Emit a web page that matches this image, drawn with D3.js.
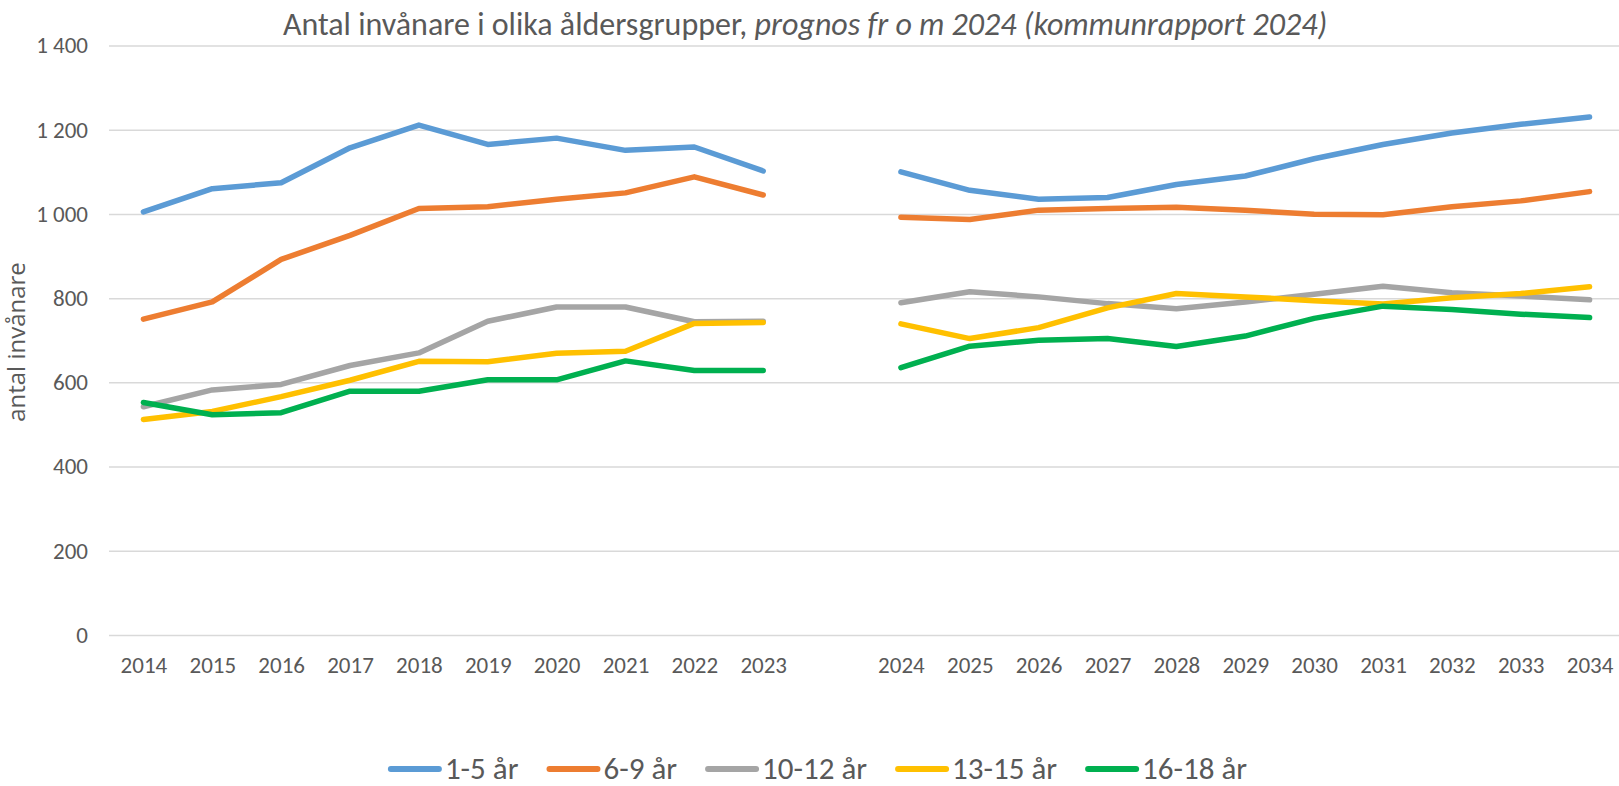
<!DOCTYPE html>
<html>
<head>
<meta charset="utf-8">
<script src="https://cdn.jsdelivr.net/npm/d3@7"></script>
<style>
  html, body { margin: 0; padding: 0; background: #fff; }
  svg text { fill: #595959; }
</style>
</head>
<body>
<script>
// categories: history, an empty slot, then the forecast
const categories = ["2014", "2015", "2016", "2017", "2018", "2019", "2020", "2021", "2022", "2023", "",
  "2024", "2025", "2026", "2027", "2028", "2029", "2030", "2031", "2032", "2033", "2034"];

const age1to5 = [1005, 1060, 1074, 1157, 1211, 1165, 1180, 1151, 1159, 1102, null,
  1100, 1056, 1035, 1039, 1070, 1090, 1131, 1165, 1192, 1213, 1230];
const age6to9 = [750, 791, 892, 949, 1013, 1017, 1035, 1050, 1088, 1045, null,
  992, 987, 1009, 1013, 1016, 1009, 999, 998, 1017, 1031, 1053];
const age10to12 = [542, 582, 595, 640, 670, 745, 779, 779, 744, 745, null,
  789, 815, 803, 787, 775, 791, 809, 828, 813, 805, 796];
const age13to15 = [512, 531, 566, 605, 650, 649, 669, 674, 740, 742, null,
  739, 704, 730, 777, 811, 803, 794, 786, 801, 811, 827];
const age16to18 = [552, 523, 528, 579, 579, 606, 606, 651, 628, 628, null,
  635, 686, 700, 704, 685, 710, 752, 781, 773, 762, 754];

const seriesNames = ["1-5 år", "6-9 år", "10-12 år", "13-15 år", "16-18 år"];
const seriesValues = [age1to5, age6to9, age10to12, age13to15, age16to18];
const colors = ["#5B9BD5", "#ED7D31", "#A5A5A5", "#FFC000", "#00B050"];
const yTicks = [0, 200, 400, 600, 800, 1000, 1200, 1400];

const W = 1619, H = 786;
const font = "Carlito, 'Liberation Sans Narrow', 'Open Sans', sans-serif";
const margin = { top: 45.5, left: 109, bottom: 151 };
const plotRight = 1624;

const svg = d3.select("body").append("svg")
  .attr("width", W).attr("height", H)
  .style("font-family", font);

const x = d3.scalePoint().domain(categories)
  .range([margin.left, plotRight]).padding(0.5);
const y = d3.scaleLinear().domain([0, 1400]).range([H - margin.bottom, margin.top]);

const fmt = d3.formatLocale({ decimal: ",", thousands: " ", grouping: [3], currency: ["", " kr"] }).format(",");

// y axis + gridlines
const yAxis = svg.append("g")
  .attr("transform", `translate(${margin.left},0)`)
  .call(d3.axisLeft(y).tickValues(yTicks).tickFormat(fmt).tickSize(-(plotRight - margin.left)).tickPadding(21));
yAxis.select(".domain").remove();
yAxis.selectAll(".tick line").attr("stroke", "#D9D9D9").attr("stroke-width", 1.5);
yAxis.selectAll(".tick text").attr("font-size", 23).attr("font-family", font).style("fill", "#595959");

// x axis labels
const xAxis = svg.append("g")
  .attr("transform", `translate(0,${H - margin.bottom})`)
  .call(d3.axisBottom(x).tickSize(0).tickPadding(22));
xAxis.select(".domain").remove();
xAxis.selectAll(".tick text").attr("font-size", 23).attr("font-family", font).style("fill", "#595959");

// lines
const line = d3.line()
  .defined(d => d.v != null)
  .x(d => x(d.c))
  .y(d => y(d.v));

svg.append("g").selectAll("path")
  .data(seriesValues.map((vals, i) => ({ i, pts: vals.map((v, j) => ({ c: categories[j], v })) })))
  .join("path")
  .attr("d", d => line(d.pts))
  .attr("fill", "none")
  .attr("stroke", d => colors[d.i])
  .attr("stroke-width", 5.5)
  .attr("stroke-linejoin", "round")
  .attr("stroke-linecap", "round");

// title
const title = svg.append("text")
  .attr("x", 805).attr("y", 35)
  .attr("text-anchor", "middle")
  .attr("font-size", 32);
title.append("tspan").text("Antal invånare i olika åldersgrupper, ");
title.append("tspan").attr("font-style", "italic").text("prognos fr o m 2024 (kommunrapport 2024)");

// y axis title
svg.append("text")
  .attr("transform", "translate(25,342) rotate(-90)")
  .attr("text-anchor", "middle")
  .attr("font-family", "'Open Sans', sans-serif")
  .attr("font-size", 24)
  .text("antal invånare");

// legend
const legend = svg.append("g");
let lx = 0;
seriesNames.forEach((name, i) => {
  const g = legend.append("g").attr("transform", `translate(${lx},0)`);
  g.append("line")
    .attr("x1", 3).attr("x2", 51).attr("y1", 0).attr("y2", 0)
    .attr("stroke", colors[i]).attr("stroke-width", 6).attr("stroke-linecap", "round");
  const t = g.append("text")
    .attr("x", 57).attr("y", 10)
    .attr("font-size", 31)
    .text(name);
  lx += 57 + t.node().getComputedTextLength() + 28;
});
const legendWidth = lx - 28;
legend.attr("transform", `translate(${817.5 - legendWidth / 2},769)`);
</script>
</body>
</html>
